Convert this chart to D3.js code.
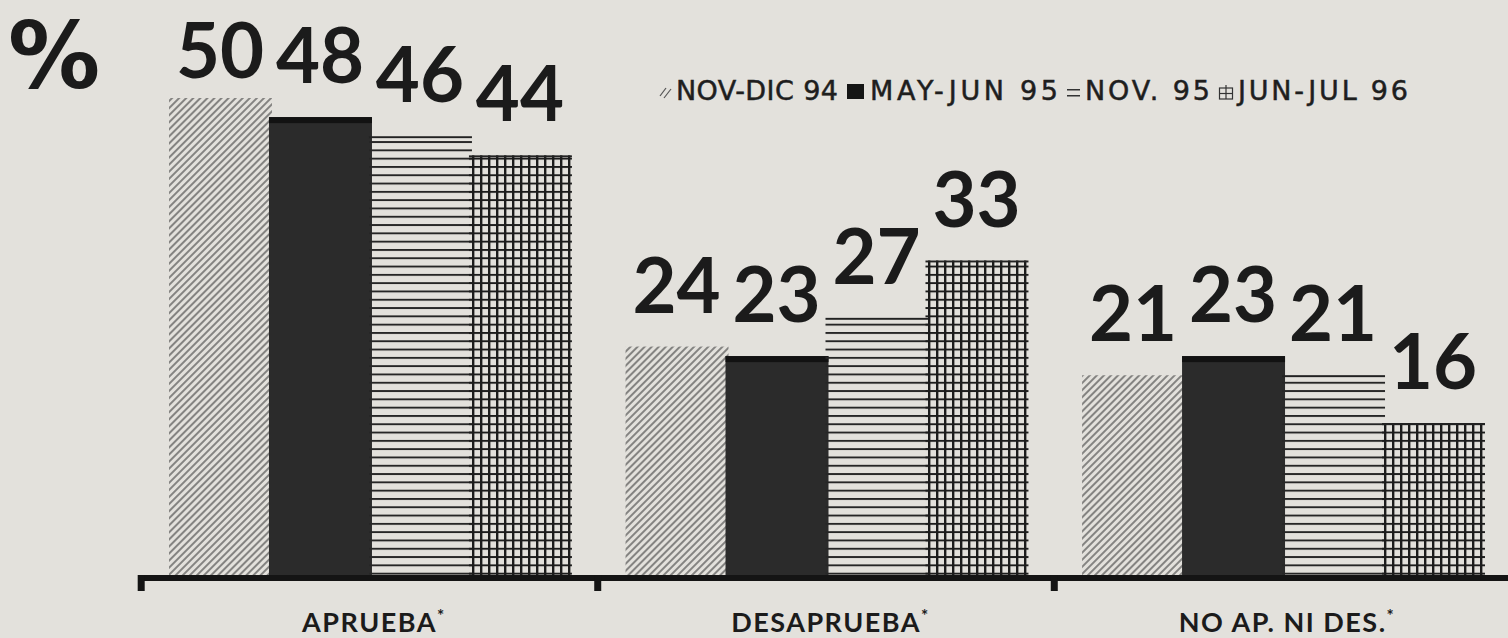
<!DOCTYPE html>
<html><head><meta charset="utf-8">
<script src="https://cdn.jsdelivr.net/npm/d3@7"></script>
<style>
html,body{margin:0;padding:0;background:#e3e1dc;}
svg{display:block;}
</style></head><body>
<svg id="chart" width="1508" height="638"></svg>
<script>
// ---- data ----
const categories = ["APRUEBA", "DESAPRUEBA", "NO AP. NI DES."];
const seriesNames = ["NOV-DIC 94", "MAY-JUN 95", "NOV. 95", "JUN-JUL 96"];
const nov94 = [50, 24, 21];
const may95 = [48, 23, 23];
const nov95 = [46, 27, 21];
const jun96 = [44, 33, 16];
const seriesValues = [nov94, may95, nov95, jun96];
const yAxisTitle = "%";

// ---- styles / layout ----
const ink = "#1b1b1b";
const fills = ["url(#hatch)", "#2b2b2b", "url(#hlines)", "url(#grid)"];
const legendTextWidths = [162, 188, 125, 170];
const legendIconWidths = [11, 18, 13, 14];

const svg = d3.select("#chart");
svg.append("rect").attr("width", 1508).attr("height", 638).attr("fill", "#e3e1dc");

const defs = svg.append("defs");
const ph = defs.append("pattern").attr("id", "hatch").attr("patternUnits", "userSpaceOnUse")
  .attr("width", 5).attr("height", 5).attr("patternTransform", "rotate(45)");
ph.append("line").attr("x1", 1).attr("y1", 0).attr("x2", 1).attr("y2", 5)
  .attr("stroke", "#444").attr("stroke-width", 1.2);
const pl = defs.append("pattern").attr("id", "hlines").attr("patternUnits", "userSpaceOnUse")
  .attr("width", 10).attr("height", 8.3);
pl.append("rect").attr("x", 0).attr("y", 0).attr("width", 10).attr("height", 1.9).attr("fill", "#262626");
const pg = defs.append("pattern").attr("id", "grid").attr("patternUnits", "userSpaceOnUse")
  .attr("width", 8).attr("height", 8.3);
pg.append("rect").attr("x", 0).attr("y", 0).attr("width", 2.4).attr("height", 8.3).attr("fill", "#1c1c1c");
pg.append("rect").attr("x", 0).attr("y", 0).attr("width", 8).attr("height", 1.9).attr("fill", "#1c1c1c");

// ---- scales ----
const x = d3.scaleBand().domain(categories).range([170, 1483]).paddingInner(0.124).paddingOuter(0);
const xi = d3.scaleBand().domain(seriesNames).range([0, x.bandwidth()]).padding(0);
const y = d3.scaleLinear().domain([0, 50]).range([576, 98]);

const rows = categories.flatMap((c, i) => seriesNames.map((s, j) => ({cat: c, series: s, j, value: seriesValues[j][i]})));

// ---- bars ----
const g = svg.append("g");
const bars = g.selectAll("g.bar").data(rows).join("g").attr("class", "bar");
bars.append("rect")
  .attr("x", d => x(d.cat) + xi(d.series) - 1)
  .attr("y", d => y(d.value))
  .attr("width", xi.bandwidth() + 3)
  .attr("height", d => y(0) - y(d.value))
  .attr("fill", d => fills[d.j]);
bars.filter(d => d.j === 1).append("rect")
  .attr("x", d => x(d.cat) + xi(d.series) - 1)
  .attr("y", d => y(d.value))
  .attr("width", xi.bandwidth() + 3).attr("height", 6).attr("fill", "#121212");
bars.filter(d => d.j === 2 || d.j === 3).append("rect")
  .attr("x", d => x(d.cat) + xi(d.series) - 1)
  .attr("y", d => y(d.value))
  .attr("width", xi.bandwidth() + 3).attr("height", 1.9).attr("fill", "#222");

// ---- value labels ----
svg.append("g").selectAll("text").data(rows).join("text")
  .attr("x", d => x(d.cat) + xi(d.series) + xi.bandwidth() / 2)
  .attr("y", d => Math.max(y(d.value) - 34, 78))
  .attr("text-anchor", "middle")
  .attr("font-family", "Lato, 'Open Sans', sans-serif")
  .attr("font-weight", 700)
  .attr("font-size", 76)
  .attr("fill", ink)
  .text(d => d.value);

// ---- axis ----
const axis = svg.append("g");
axis.append("rect").attr("x", 143).attr("y", 575).attr("width", 1508 - 143).attr("height", 6).attr("fill", "#141414");
axis.selectAll("rect.tick").data(categories).join("rect").attr("class", "tick")
  .attr("x", c => x(c) - x.step() * x.paddingInner() / 2 - 4)
  .attr("y", 575).attr("width", 7).attr("height", 16).attr("fill", "#141414");

const catText = svg.append("g").selectAll("text").data(categories).join("text")
  .attr("x", c => x(c) + x.bandwidth() / 2 + 4)
  .attr("y", 632)
  .attr("text-anchor", "middle")
  .attr("font-family", "Lato, 'Open Sans', sans-serif")
  .attr("font-weight", 700)
  .attr("font-size", 27)
  .attr("letter-spacing", 1.5)
  .attr("fill", ink);
catText.append("tspan").text(c => c);
catText.append("tspan").attr("font-size", 17).attr("dy", -10).text("*");

// ---- y title ----
svg.append("text").attr("x", 8).attr("y", 88)
  .attr("font-family", "'DejaVu Sans', Lato, sans-serif")
  .attr("font-weight", 700).attr("font-size", 92).attr("fill", ink)
  .text(yAxisTitle);

// ---- legend ----
const leg = svg.append("g");
const ly = 100;
let lx = 660;
seriesNames.forEach((name, j) => {
  const ig = leg.append("g").attr("transform", `translate(${lx},${ly})`);
  if (j === 0) {
    ig.append("line").attr("x1", 0).attr("y1", -4).attr("x2", 6).attr("y2", -12).attr("stroke", "#555").attr("stroke-width", 1.2);
    ig.append("line").attr("x1", 4).attr("y1", -2).attr("x2", 11).attr("y2", -11).attr("stroke", "#555").attr("stroke-width", 1.2);
  } else if (j === 1) {
    ig.append("rect").attr("x", 0).attr("y", -16).attr("width", 17).attr("height", 15).attr("fill", "#151515");
  } else if (j === 2) {
    ig.append("rect").attr("x", 0).attr("y", -11).attr("width", 13).attr("height", 1.5).attr("fill", "#333");
    ig.append("rect").attr("x", 0).attr("y", -5).attr("width", 13).attr("height", 1.5).attr("fill", "#333");
  } else {
    ig.append("rect").attr("x", 0.5).attr("y", -12).attr("width", 13).attr("height", 11).attr("fill", "none").attr("stroke", "#333").attr("stroke-width", 1.2);
    ig.append("line").attr("x1", 7).attr("y1", -15).attr("x2", 7).attr("y2", -1).attr("stroke", "#333").attr("stroke-width", 1.2);
    ig.append("line").attr("x1", 0).attr("y1", -6.5).attr("x2", 14).attr("y2", -6.5).attr("stroke", "#333").attr("stroke-width", 1.2);
  }
  lx += legendIconWidths[j] + 5;
  leg.append("text").attr("x", lx).attr("y", ly)
    .attr("font-family", "'DejaVu Sans', Lato, sans-serif").attr("font-size", 27)
    .attr("font-weight", 400).attr("fill", "#1e1e1e")
    .attr("stroke", "#1e1e1e").attr("stroke-width", 0.5)
    .attr("textLength", legendTextWidths[j]).attr("lengthAdjust", "spacing")
    .text(name);
  lx += legendTextWidths[j] + 9;
});
</script>
</body></html>
